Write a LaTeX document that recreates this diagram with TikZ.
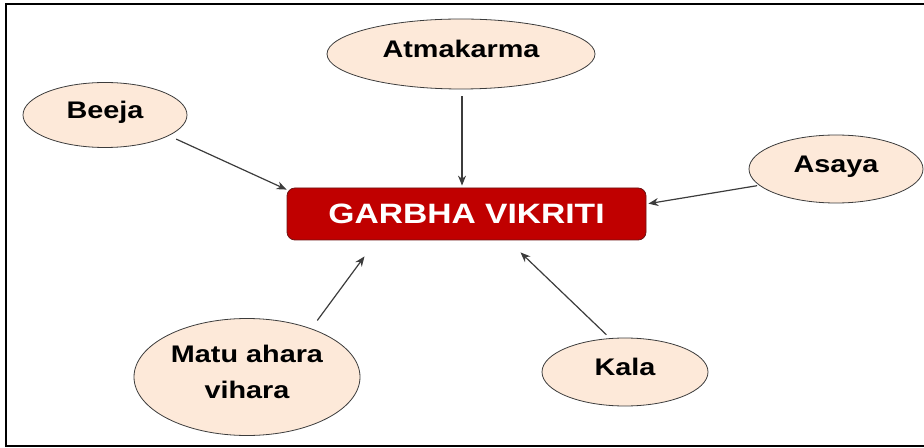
\documentclass[tikz,border=0pt]{standalone}
\usepackage{fontspec}
\setmainfont{Liberation Sans}
\newfontfamily\labelfont[FakeStretch=1.2]{Liberation Sans}
\usepackage{tikz}
\usetikzlibrary{arrows.meta, shapes.geometric}
\definecolor{pessego}{RGB}{253,233,217}
\definecolor{vermelhoCaixa}{RGB}{192,0,0}
\definecolor{bordaCaixa}{RGB}{110,20,20}
\definecolor{cinzaLinha}{RGB}{60,60,60}

\begin{document}
\begin{tikzpicture}[
    x=0.5pt, y=-0.5pt,
    causa/.style={ellipse, draw=cinzaLinha, fill=pessego, inner sep=0pt, text depth=5pt, align=center, font=\labelfont\bfseries\fontsize{12}{18}\selectfont},
    centro/.style={draw=bordaCaixa, fill=vermelhoCaixa, rounded corners=4pt, minimum width=179.5pt, minimum height=26pt, text=white, font=\labelfont\bfseries\fontsize{14}{16}\selectfont},
    seta/.style={draw=cinzaLinha, line width=0.6pt, -{Stealth[length=5pt, width=4pt]}}
]
    \useasboundingbox (0,0) rectangle (924,448);
    % Moldura
    \draw[line width=1pt] (6,4) rectangle (940,446);

    % Elementos
    \node[centro] (garbha) at (466.5,214) {GARBHA VIKRITI};
    \node[causa, minimum width=134pt, minimum height=35pt] (atma) at (461,54) {Atmakarma};
    \node[causa, minimum width=82pt, minimum height=32.5pt] (beeja) at (105,115) {Beeja};
    \node[causa, minimum width=87pt, minimum height=34pt] (asaya) at (836,169) {Asaya};
    \node[causa, minimum width=113pt, minimum height=58.5pt] (matu) at (247,377) {Matu ahara\\vihara};
    \node[causa, minimum width=83pt, minimum height=34pt] (kala) at (625,372) {Kala};

    % Setas
    \draw[seta, shorten <=4pt] (beeja.-18) -- ([yshift=-1pt]garbha.north west);
    \draw[seta, shorten <=3.5pt, shorten >=1pt] ([xshift=0.5pt]atma.south) -- ([xshift=0.5pt]atma.south |- garbha.north);
    \draw[seta, shorten <=1pt, shorten >=1pt] (asaya.192) -- ([yshift=5pt]garbha.east);
    \draw[seta, shorten <=5pt] (matu.37) -- ([xshift=-51pt, yshift=-8pt]garbha.south);
    \draw[seta, shorten <=2.5pt] (kala.114) -- ([xshift=27pt, yshift=-6pt]garbha.south);
\end{tikzpicture}
\end{document}
